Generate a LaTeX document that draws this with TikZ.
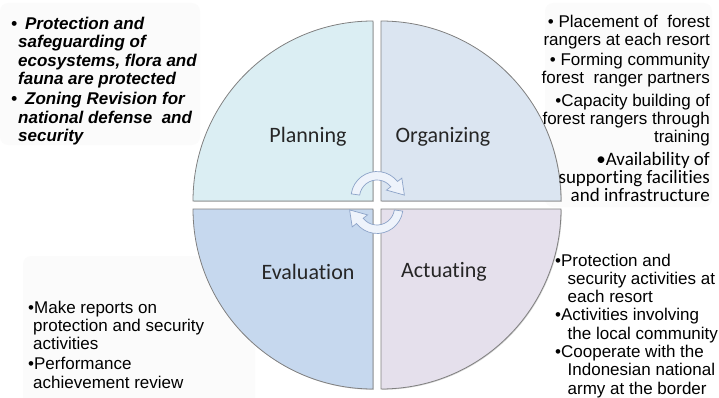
\documentclass[tikz,border=0pt]{standalone}
\usepackage{fontspec}
\setmainfont{Liberation Sans}
\newfontfamily\calibrifont[Ligatures=NoCommon]{Carlito}
\usetikzlibrary{shadows}
\definecolor{planfill}{RGB}{219,238,243}
\definecolor{orgfill}{RGB}{219,229,241}
\definecolor{evalfill}{RGB}{198,216,238}
\definecolor{actfill}{RGB}{229,224,236}
\definecolor{rimgray}{RGB}{128,128,128}
\definecolor{arrowrim}{RGB}{140,163,200}
\definecolor{arrowfill}{RGB}{238,243,251}
\definecolor{notefill}{RGB}{251,251,251}

\begin{document}
\begin{tikzpicture}[x=1pt,y=1pt]

    \tikzset{
      quarter/.style={
        draw=rimgray,
        line width=0.8pt,
        drop shadow={shadow xshift=0.8pt, shadow yshift=-0.8pt, opacity=0.35},
      },
      phase/.style={font=\calibrifont\fontsize{22}{26}\selectfont, text=black!85, inner sep=0pt},
      note/.style={font=\fontsize{17}{18.3}\selectfont, inner sep=0pt, align=left},
      boldnote/.style={note, font=\fontsize{17}{18.3}\selectfont\bfseries\itshape},
      notebox/.style={fill=notefill, rounded corners=8pt},
      cyclearrow/.pic={
        \filldraw[draw=arrowrim, fill=arrowfill, line width=0.7pt]
          (172:17.5) -- (172:26) arc[start angle=172, end angle=38, radius=26]
          -- (38:31.5) -- (5:27.5) -- (38:12) -- (38:17.5)
          arc[start angle=38, end angle=172, radius=17.5] -- cycle;
      },
    }
    \useasboundingbox (0,0) rectangle (719,397);
    % faint note panels
    \fill[notebox] (0,252) rectangle (200,394);
    \fill[notebox] (545,190) rectangle (712,394);
    \fill[notebox] (23,-10) rectangle (255,141);
    % four quarters
    \filldraw[quarter, fill=planfill] (373,196) -- (193,196) arc[start angle=180, end angle=90, radius=180] -- cycle;
    \filldraw[quarter, fill=orgfill] (381,196) -- (381,376) arc[start angle=90, end angle=0, radius=180] -- cycle;
    \filldraw[quarter, fill=actfill] (381,188) -- (561,188) arc[start angle=0, end angle=-90, radius=180] -- cycle;
    \filldraw[quarter, fill=evalfill] (373,188) -- (373,8) arc[start angle=270, end angle=180, radius=180] -- cycle;
    \node[phase] (planning) at (308,260) {Planning};
    \node[phase] (organizing) at (443,260) {Organizing};
    \node[phase] (evaluation) at (308,125) {Evaluation};
    \node[phase] (actuating) at (444,125) {Actuating};
    % cycle arrows
    \pic at (377,199.5) {cyclearrow};
    \pic[rotate=180] at (377,189.5) {cyclearrow};
    % notes
    \node[boldnote, anchor=north west] (planningnotes) at (11,380) {%
      \textbullet\hspace{8pt}Protection and\\
      \hspace*{7pt}safeguarding of\\
      \hspace*{7pt}ecosystems, flora and\\
      \hspace*{7pt}fauna are protected\\[2pt]
      \textbullet\hspace{8pt}Zoning Revision for\\
      \hspace*{7pt}national defense\ \ and\\
      \hspace*{7pt}security};
    \node[note, align=right, anchor=north east] (organizingnotes) at (710,382.5) {%
      \textbullet\ Placement of\ \ forest\\
      rangers at each resort\\[2pt]
      \textbullet\ Forming community\\
      forest\ \ ranger partners\\[4pt]
      \textbullet Capacity building of\\
      forest rangers through\\
      training\\[4pt]
      {\calibrifont\fontsize{19}{18}\selectfont \textbullet Availability of}\\
      {\calibrifont\fontsize{19}{18}\selectfont supporting\ facilities}\\
      {\calibrifont\fontsize{19}{18}\selectfont and infrastructure}};
    \node[note, anchor=north west] (actuatingnotes) at (555,143.5) {%
      \textbullet Protection and\\
      \hspace*{12.5pt}security activities at\\
      \hspace*{12.5pt}each resort\\
      \textbullet Activities involving\\
      \hspace*{12.5pt}the local community\\
      \textbullet Cooperate with the\\
      \hspace*{12.5pt}Indonesian national\\
      \hspace*{12.5pt}army at the border};
    \node[note, anchor=north west] (evaluationnotes) at (28,96.5) {%
      \textbullet Make reports on\\
      \hspace*{5pt}protection and security\\
      \hspace*{5pt}activities\\[2pt]
      \textbullet Performance\\
      \hspace*{5pt}achievement review};

\end{tikzpicture}
\end{document}
